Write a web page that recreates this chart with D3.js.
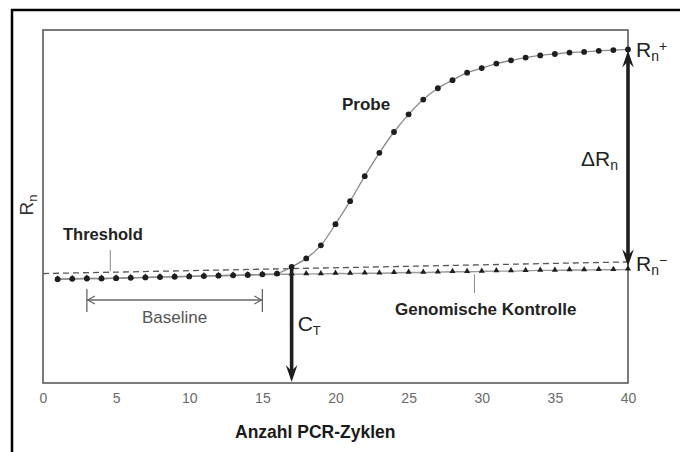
<!DOCTYPE html>
<html><head><meta charset="utf-8">
<script src="https://cdn.jsdelivr.net/npm/d3@7"></script>
<style>
html,body{margin:0;padding:0;background:#fff;}
svg{display:block;font-family:"Liberation Sans",Arial,Helvetica,sans-serif;}
</style></head>
<body>
<svg id="chart" width="680" height="452"></svg>
<script>
// ---- data ----
const cycles = d3.range(1, 41);
const probe = [0.294,0.295,0.296,0.296,0.297,0.298,0.299,0.300,0.301,0.302,
               0.303,0.304,0.305,0.306,0.308,0.310,0.329,0.353,0.390,0.450,
               0.515,0.586,0.652,0.711,0.761,0.803,0.835,0.858,0.879,0.892,
               0.905,0.914,0.922,0.928,0.932,0.936,0.938,0.941,0.943,0.945];
const genomic = [0.294,0.295,0.296,0.296,0.297,0.298,0.299,0.300,0.301,0.302,
                 0.303,0.304,0.305,0.306,0.307,0.308,0.308,0.309,0.309,0.310,
                 0.310,0.311,0.311,0.312,0.313,0.313,0.314,0.315,0.315,0.316,
                 0.317,0.317,0.318,0.319,0.319,0.320,0.320,0.321,0.321,0.322];
const thresholdCycles = [0, 40];
const thresholdValues = [0.310, 0.343];
const xTicks = [0,5,10,15,20,25,30,35,40];
const ctCycle = 17;
const baselineRange = [3, 15];

// ---- layout ----
const svg = d3.select("#chart");
const x = d3.scaleLinear().domain([0, 40]).range([43, 628]);
const y = d3.scaleLinear().domain([0, 1]).range([383, 30]);
const dark = "#1e1e1e";

// outer frame
svg.append("rect").attr("x", 12).attr("y", 10).attr("width", 700).attr("height", 500)
  .attr("fill", "none").attr("stroke", "#000").attr("stroke-width", 2.5);

// plot frame
svg.append("rect").attr("x", x(0)).attr("y", y(1)).attr("width", x(40) - x(0)).attr("height", y(0) - y(1))
  .attr("fill", "none").attr("stroke", "#5a5a5a").attr("stroke-width", 1.6);

// x axis labels (no tick marks)
const xAxis = d3.axisBottom(x).tickValues(xTicks).tickSize(0).tickPadding(10);
const gx = svg.append("g").attr("transform", `translate(0,${y(0)})`).call(xAxis);
gx.select(".domain").remove();
gx.selectAll("text").attr("font-size", 14).attr("fill", "#6a6a6a")
  .attr("font-family", "'Liberation Sans',Arial,sans-serif");

// axis titles
svg.append("text").attr("x", 235).attr("y", 438).attr("font-size", 17.5).attr("font-weight", "bold")
  .attr("fill", "#1a1a1a").text("Anzahl PCR-Zyklen");
const yl = svg.append("text").attr("transform", "translate(33,205) rotate(-90)")
  .attr("text-anchor", "middle").attr("font-size", 19).attr("fill", "#333");
yl.append("tspan").text("R");
yl.append("tspan").attr("font-size", 13).attr("dy", 4).text("n");

// threshold dashed line
svg.append("line")
  .attr("x1", x(thresholdCycles[0])).attr("y1", y(thresholdValues[0]))
  .attr("x2", x(thresholdCycles[1])).attr("y2", y(thresholdValues[1]))
  .attr("stroke", "#555").attr("stroke-width", 1.3).attr("stroke-dasharray", "6,4");

// lines
const line = d3.line().x((d, i) => x(cycles[i])).y(d => y(d)).curve(d3.curveCatmullRom);
svg.append("path").datum(genomic).attr("d", line).attr("fill", "none")
  .attr("stroke", "#999").attr("stroke-width", 1.4);
svg.append("path").datum(probe).attr("d", line).attr("fill", "none")
  .attr("stroke", "#8a8a8a").attr("stroke-width", 1.3);

// markers
const tri = d3.symbol().type(d3.symbolTriangle).size(16);
svg.append("g").selectAll("path").data(genomic).join("path")
  .attr("d", tri).attr("fill", dark)
  .attr("transform", (d, i) => `translate(${x(cycles[i])},${y(d) - 0.5})`);
svg.append("g").selectAll("circle").data(probe).join("circle")
  .attr("cx", (d, i) => x(cycles[i])).attr("cy", d => y(d)).attr("r", 2.9).attr("fill", dark);

// arrow helper (tip at (tx,ty), direction +1 down / -1 up)
function arrowHead(tx, ty, dir) {
  const L = 17, W = 5.8, N = 11;
  return `M${tx},${ty} L${tx - W},${ty - dir * L} L${tx},${ty - dir * N} L${tx + W},${ty - dir * L} Z`;
}

// CT arrow
const ctX = x(ctCycle), ctTop = y(probe[ctCycle - 1]), ctBot = y(0) - 1;
svg.append("line").attr("x1", ctX).attr("x2", ctX).attr("y1", ctTop).attr("y2", ctBot - 10)
  .attr("stroke", dark).attr("stroke-width", 3.6);
svg.append("path").attr("d", arrowHead(ctX, ctBot, 1)).attr("fill", dark);
const ct = svg.append("text").attr("x", ctX + 6).attr("y", 331).attr("font-size", 21).attr("fill", "#222");
ct.append("tspan").text("C");
ct.append("tspan").attr("font-size", 13).attr("dy", 4).text("T");

// ΔRn arrow
const dX = x(40), dTop = y(probe[39]) + 1, dBot = y(genomic[39]) - 3;
svg.append("line").attr("x1", dX).attr("x2", dX).attr("y1", dTop + 10).attr("y2", dBot - 10)
  .attr("stroke", dark).attr("stroke-width", 3.6);
svg.append("path").attr("d", arrowHead(dX, dTop, -1)).attr("fill", dark);
svg.append("path").attr("d", arrowHead(dX, dBot, 1)).attr("fill", dark);
const dr = svg.append("text").attr("x", 581).attr("y", 166).attr("font-size", 21).attr("fill", "#222");
dr.append("tspan").text("ΔR");
dr.append("tspan").attr("font-size", 14).attr("dy", 4).text("n");

// Rn+ / Rn-
const rp = svg.append("text").attr("x", 636).attr("y", 57).attr("font-size", 21).attr("fill", "#222");
rp.append("tspan").text("R");
rp.append("tspan").attr("font-size", 14).attr("dy", 4).text("n");
rp.append("tspan").attr("font-size", 14).attr("dy", -10).text("+");
const rm = svg.append("text").attr("x", 636).attr("y", 271).attr("font-size", 21).attr("fill", "#222");
rm.append("tspan").text("R");
rm.append("tspan").attr("font-size", 14).attr("dy", 4).text("n");
rm.append("tspan").attr("font-size", 14).attr("dy", -10).text("−");

// Probe label
svg.append("text").attr("x", 342).attr("y", 110).attr("font-size", 17).attr("font-weight", "bold")
  .attr("fill", "#222").text("Probe");

// Threshold label + leader
svg.append("text").attr("x", 63).attr("y", 240).attr("font-size", 16.5).attr("font-weight", "bold")
  .attr("fill", "#222").text("Threshold");
const thrAt = c => thresholdValues[0] + (thresholdValues[1] - thresholdValues[0]) * c / 40;
svg.append("line").attr("x1", x(4.6)).attr("x2", x(4.6)).attr("y1", 250).attr("y2", y(thrAt(4.6)) - 1)
  .attr("stroke", "#888").attr("stroke-width", 1);

// Genomische Kontrolle label + leader
svg.append("text").attr("x", 395).attr("y", 315).attr("font-size", 17).attr("font-weight", "bold")
  .attr("fill", "#222").text("Genomische Kontrolle");
svg.append("line").attr("x1", x(29.5)).attr("x2", x(29.5)).attr("y1", y(genomic[29]) + 3).attr("y2", 293)
  .attr("stroke", "#888").attr("stroke-width", 1);

// Baseline bracket
const bx1 = x(baselineRange[0]), bx2 = x(baselineRange[1]), by = 300;
const bg = svg.append("g").attr("stroke", "#666").attr("stroke-width", 1.3).attr("fill", "none");
bg.append("line").attr("x1", bx1).attr("x2", bx2).attr("y1", by).attr("y2", by);
bg.append("line").attr("x1", bx1).attr("x2", bx1).attr("y1", by - 11).attr("y2", by + 12);
bg.append("line").attr("x1", bx2).attr("x2", bx2).attr("y1", by - 11).attr("y2", by + 12);
bg.append("path").attr("d", `M${bx1 + 8},${by - 4} L${bx1 + 1},${by} L${bx1 + 8},${by + 4}`);
bg.append("path").attr("d", `M${bx2 - 8},${by - 4} L${bx2 - 1},${by} L${bx2 - 8},${by + 4}`);
svg.append("text").attr("x", 142).attr("y", 322.5).attr("font-size", 17).attr("fill", "#555").text("Baseline");
</script>
</body></html>
